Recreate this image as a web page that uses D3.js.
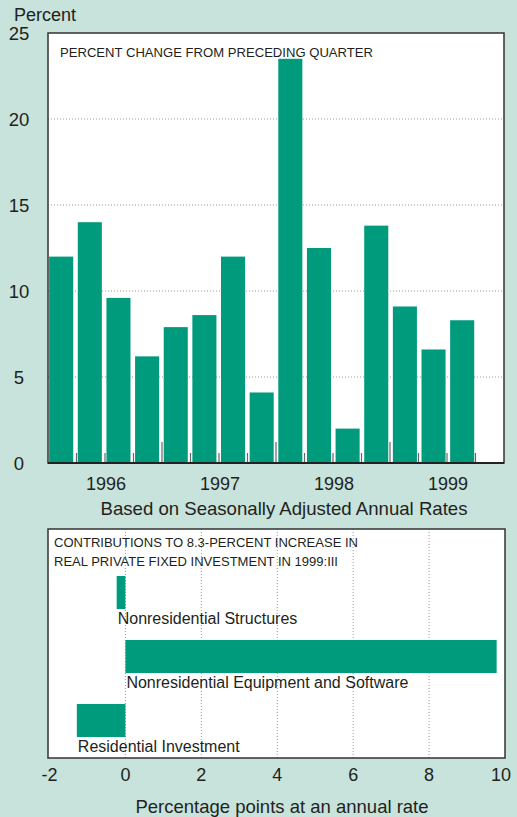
<!DOCTYPE html>
<html><head>
<meta charset="utf-8">
<script src="https://d3js.org/d3.v7.min.js"></script>
<style>
body { margin: 0; background: #c7e3db; }
svg { display: block; font-family: "Liberation Sans", Arial, Helvetica, sans-serif; }
</style>
</head>
<body>
<svg id="chart" width="517" height="817"></svg>
<script>
// top chart: percent change from preceding quarter, 1996:I - 1999:III
const years = ["1996", "1997", "1998", "1999"];
const quarters = ["1996:I","1996:II","1996:III","1996:IV",
                  "1997:I","1997:II","1997:III","1997:IV",
                  "1998:I","1998:II","1998:III","1998:IV",
                  "1999:I","1999:II","1999:III","1999:IV"];
const pctChange = [12.0, 14.0, 9.6, 6.2, 7.9, 8.6, 12.0, 4.1, 23.5, 12.5, 2.0, 13.8, 9.1, 6.6, 8.3];
const yTicks = [0, 5, 10, 15, 20, 25];

// bottom chart: contributions to 8.3 percent increase
const components = ["Nonresidential Structures", "Nonresidential Equipment and Software", "Residential Investment"];
const contributions = [-0.23, 9.78, -1.28];
const xTicks = [-2, 0, 2, 4, 6, 8, 10];

const barColor = "#009b7c";
const textColor = "#231f20";
const svg = d3.select("#chart");

// ---------- top chart ----------
const box1 = {left: 48, right: 504, top: 33, bottom: 463};
const x1 = d3.scaleBand().domain(quarters).range([box1.left, box1.right]).paddingInner(0.16).paddingOuter(0.04);
const y1 = d3.scaleLinear().domain([0, 25]).range([box1.bottom, box1.top]);
const slot = (box1.right - box1.left) / quarters.length;

svg.append("rect")
    .attr("x", box1.left).attr("y", box1.top)
    .attr("width", box1.right - box1.left).attr("height", box1.bottom - box1.top)
    .attr("fill", "white");

//dotted gridlines
svg.selectAll("line.grid1").data(yTicks.filter(d => d > 0 && d < 25))
    .join("line")
    .attr("class", "grid1")
    .attr("x1", box1.left).attr("x2", box1.right)
    .attr("y1", d => y1(d)).attr("y2", d => y1(d))
    .attr("stroke", "#999").attr("stroke-width", 1).attr("stroke-dasharray", "1,2");

svg.selectAll("rect.bar1").data(pctChange)
    .join("rect")
    .attr("class", "bar1")
    .attr("x", (d, i) => x1(quarters[i]))
    .attr("width", x1.bandwidth())
    .attr("y", d => y1(d))
    .attr("height", d => y1(0) - y1(d))
    .attr("fill", barColor);

//quarter ticks, taller at year boundaries
svg.selectAll("line.qtick").data(d3.range(1, quarters.length))
    .join("line")
    .attr("class", "qtick")
    .attr("x1", i => box1.left + i * slot).attr("x2", i => box1.left + i * slot)
    .attr("y1", box1.bottom)
    .attr("y2", i => box1.bottom - (i % 4 === 0 ? 21 : 10))
    .attr("stroke", "#666").attr("stroke-width", 1.2);

svg.append("rect")
    .attr("x", box1.left).attr("y", box1.top)
    .attr("width", box1.right - box1.left).attr("height", box1.bottom - box1.top)
    .attr("fill", "none").attr("stroke", "#333").attr("stroke-width", 1.5);
svg.append("line")
    .attr("x1", box1.left).attr("x2", box1.right)
    .attr("y1", box1.bottom).attr("y2", box1.bottom)
    .attr("stroke", "#222").attr("stroke-width", 2);

svg.selectAll("text.ylab").data(yTicks)
    .join("text")
    .attr("class", "ylab")
    .attr("x", 19).attr("y", d => y1(d))
    .attr("dy", "0.36em")
    .attr("text-anchor", "middle")
    .attr("font-size", 18.5).attr("fill", textColor)
    .text(d => d);

svg.append("text")
    .attr("x", 14).attr("y", 21)
    .attr("font-size", 18).attr("fill", textColor)
    .text("Percent");

svg.append("text")
    .attr("x", 60).attr("y", 57)
    .attr("font-size", 13).attr("fill", textColor)
    .attr("textLength", 313).attr("lengthAdjust", "spacingAndGlyphs")
    .text("PERCENT CHANGE FROM PRECEDING QUARTER");

svg.selectAll("text.year").data(years)
    .join("text")
    .attr("class", "year")
    .attr("x", (d, i) => box1.left + (i * 4 + 2) * slot + 1)
    .attr("y", 490)
    .attr("text-anchor", "middle")
    .attr("font-size", 18).attr("fill", textColor)
    .text(d => d);

svg.append("text")
    .attr("x", 284).attr("y", 515)
    .attr("text-anchor", "middle")
    .attr("font-size", 18.6).attr("fill", textColor)
    .text("Based on Seasonally Adjusted Annual Rates");

// ---------- bottom chart ----------
const box2 = {left: 48, right: 505, top: 529, bottom: 758};
const x2 = d3.scaleLinear().domain([-2, 10]).range([box2.left + 1.5, box2.right]);
const y2 = d3.scaleBand().domain(components).range([576, 737]).paddingInner(0.484).paddingOuter(0);

svg.append("rect")
    .attr("x", box2.left).attr("y", box2.top)
    .attr("width", box2.right - box2.left).attr("height", box2.bottom - box2.top)
    .attr("fill", "white");

svg.selectAll("line.grid2").data(xTicks.filter(d => d > -2 && d < 10))
    .join("line")
    .attr("class", "grid2")
    .attr("x1", d => x2(d)).attr("x2", d => x2(d))
    .attr("y1", box2.top).attr("y2", box2.bottom)
    .attr("stroke", "#999").attr("stroke-width", 1).attr("stroke-dasharray", "1,2");

svg.selectAll("rect.bar2").data(contributions)
    .join("rect")
    .attr("class", "bar2")
    .attr("x", d => x2(Math.min(0, d)))
    .attr("width", d => Math.abs(x2(d) - x2(0)))
    .attr("y", (d, i) => y2(components[i]))
    .attr("height", y2.bandwidth())
    .attr("fill", barColor);

svg.selectAll("text.comp").data(contributions)
    .join("text")
    .attr("class", "comp")
    .attr("x", d => x2(Math.min(0, d)) + 1)
    .attr("y", (d, i) => y2(components[i]) + y2.bandwidth() + 15)
    .attr("font-size", 16).attr("fill", textColor)
    .text((d, i) => components[i]);

svg.append("rect")
    .attr("x", box2.left).attr("y", box2.top)
    .attr("width", box2.right - box2.left).attr("height", box2.bottom - box2.top)
    .attr("fill", "none").attr("stroke", "#333").attr("stroke-width", 1.5);

const title2 = ["CONTRIBUTIONS TO 8.3-PERCENT INCREASE IN", "REAL PRIVATE FIXED INVESTMENT IN 1999:III"];
const title2Width = [304, 284];
svg.selectAll("text.title2").data(title2)
    .join("text")
    .attr("class", "title2")
    .attr("x", 54).attr("y", (d, i) => 547 + i * 19)
    .attr("font-size", 13).attr("fill", textColor)
    .attr("textLength", (d, i) => title2Width[i]).attr("lengthAdjust", "spacingAndGlyphs")
    .text(d => d);

svg.selectAll("text.xlab").data(xTicks)
    .join("text")
    .attr("class", "xlab")
    .attr("x", d => d === 10 ? x2(d) - 4 : x2(d))
    .attr("y", 781)
    .attr("text-anchor", "middle")
    .attr("font-size", 18).attr("fill", textColor)
    .text(d => d);

svg.append("text")
    .attr("x", 282).attr("y", 813)
    .attr("text-anchor", "middle")
    .attr("font-size", 18.5).attr("fill", textColor)
    .text("Percentage points at an annual rate");
</script>
</body>
</html>
